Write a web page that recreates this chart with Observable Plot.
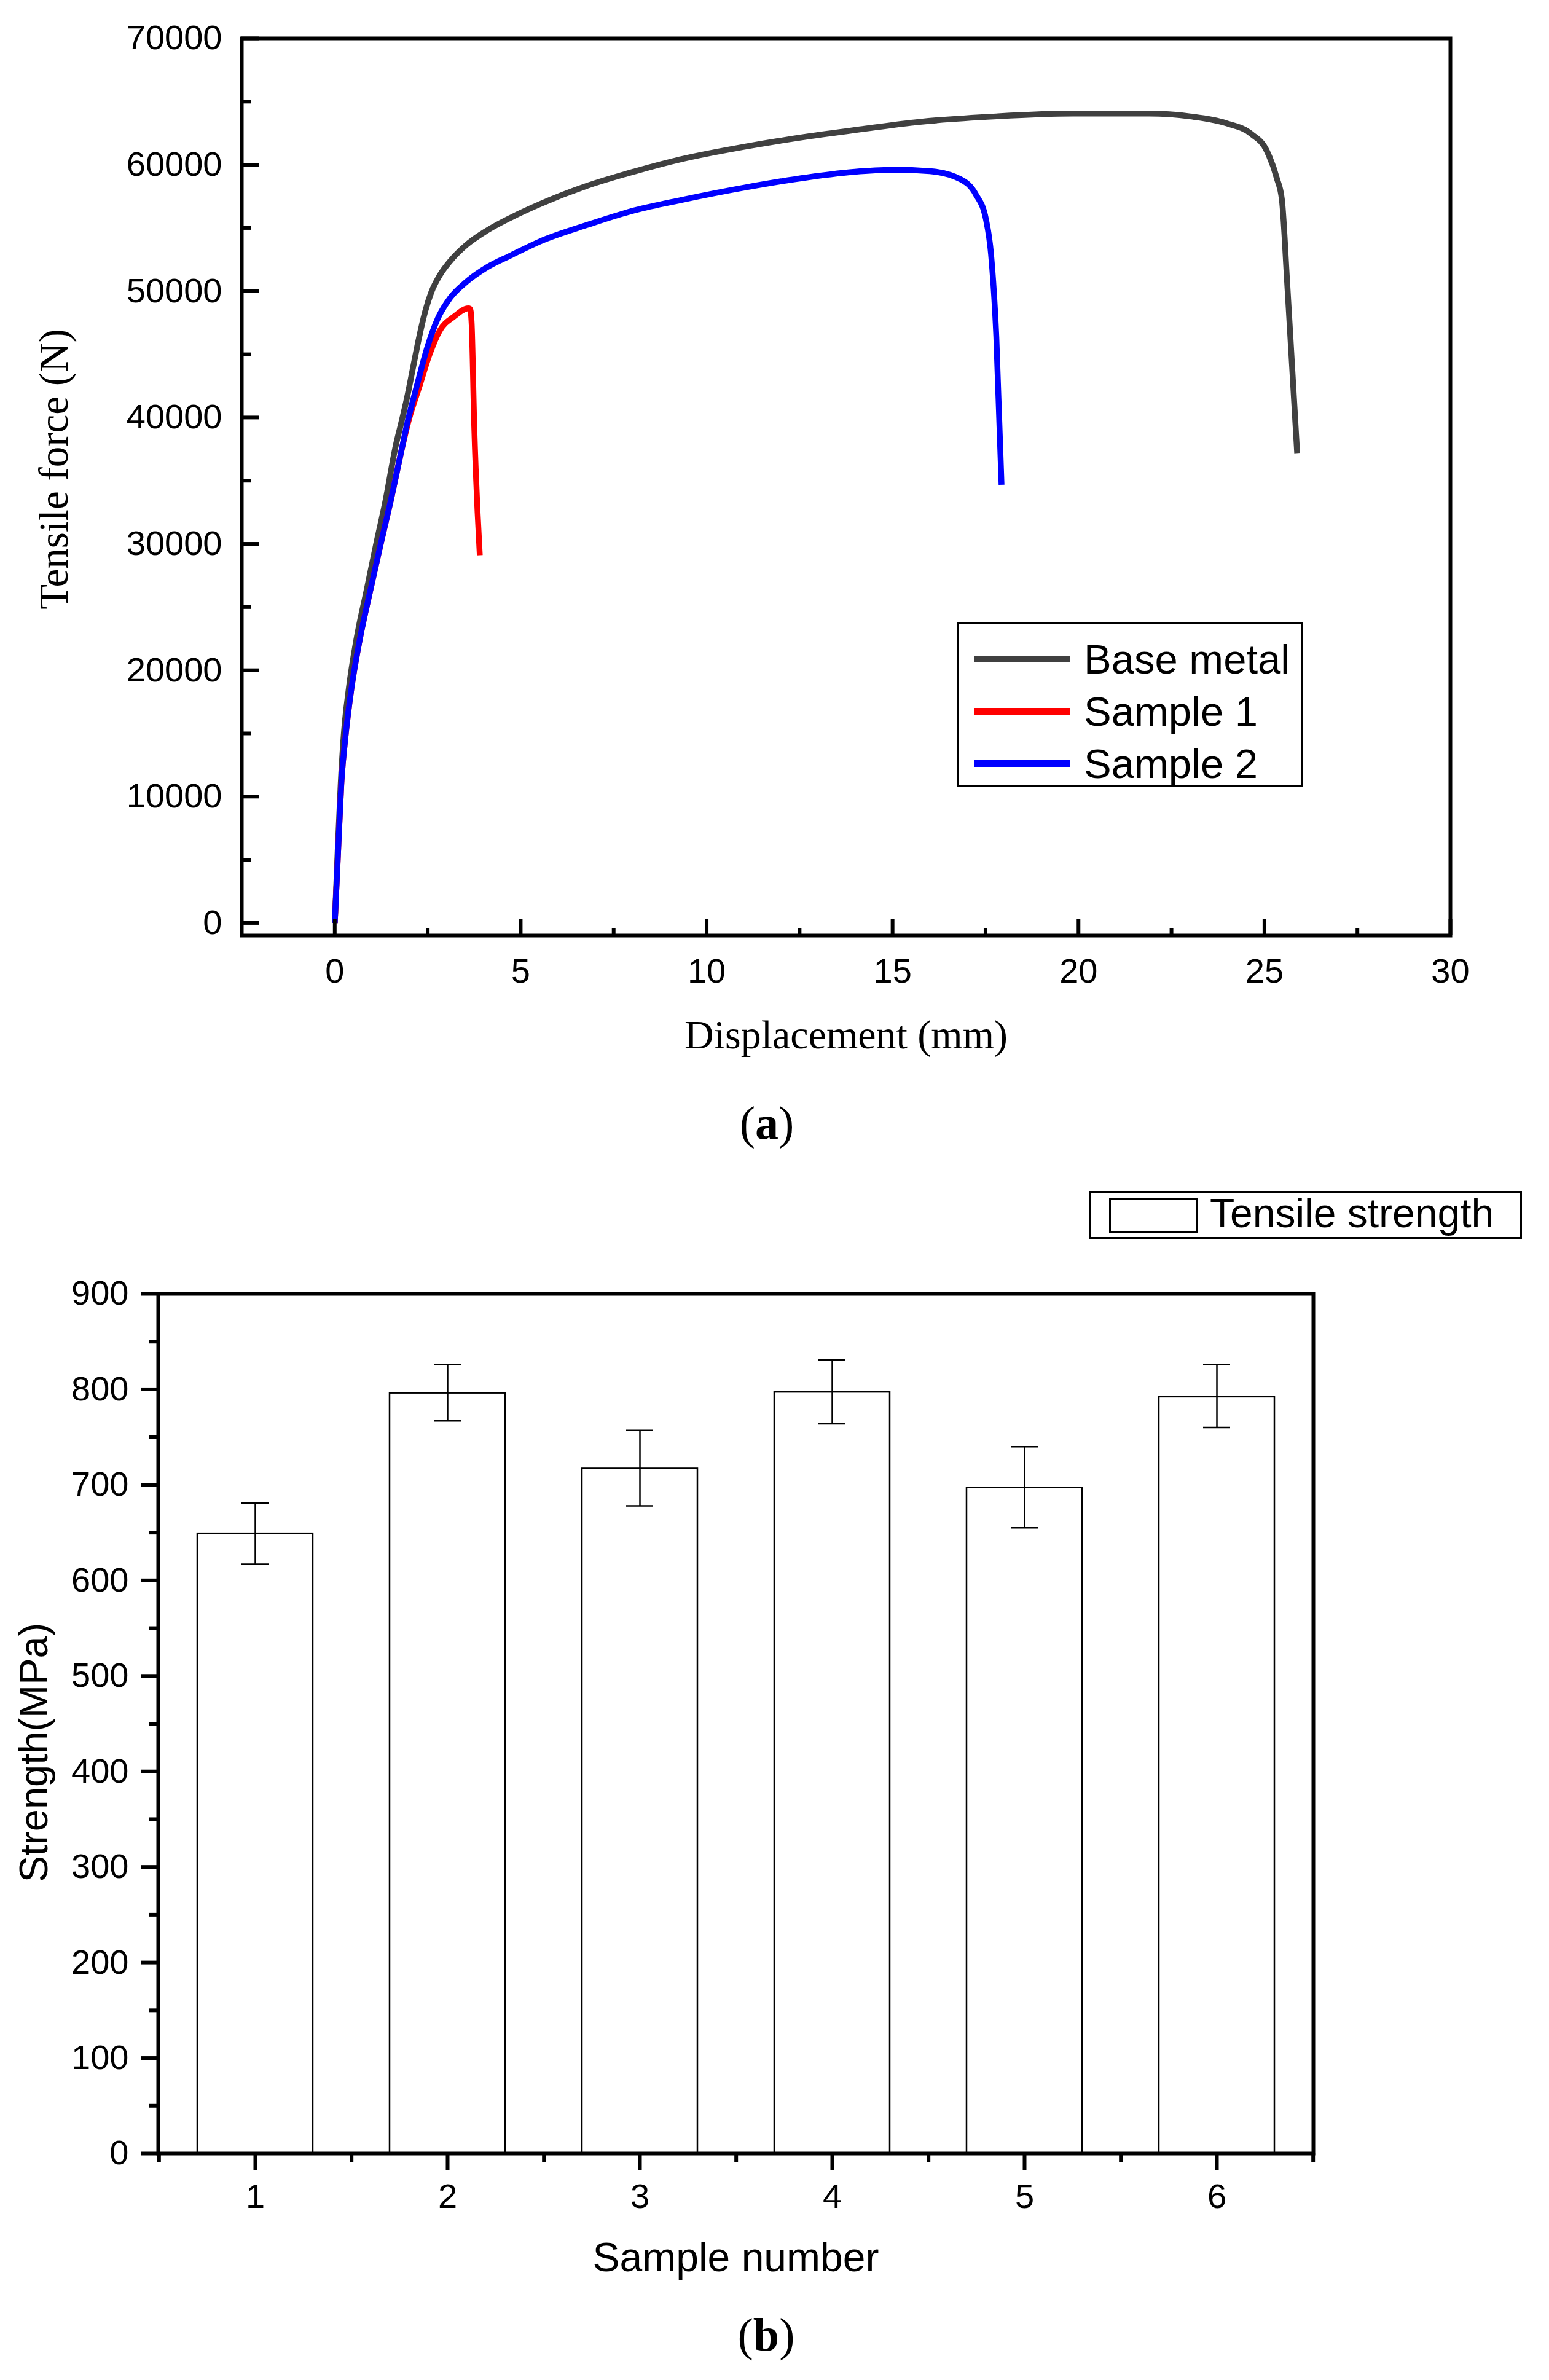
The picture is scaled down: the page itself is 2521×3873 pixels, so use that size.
<!DOCTYPE html>
<html>
<head>
<meta charset="utf-8">
<script src="https://cdn.jsdelivr.net/npm/d3@7"></script>
<script src="https://cdn.jsdelivr.net/npm/@observablehq/plot@0.6"></script>
<style>
html, body { margin: 0; padding: 0; background: #fff; }
#page { position: relative; width: 2521px; height: 3873px; overflow: hidden; background: #fff; }
#page > svg, #page > div { position: absolute; }
.lg { font-family: "Liberation Sans", Arial, sans-serif; color: #000; white-space: nowrap; line-height: 1; }
.cap { font-family: "Liberation Serif", "Times New Roman", serif; color: #000; line-height: 1; white-space: nowrap; transform: translate(-50%, -50%); }
</style>
</head>
<body>
<div id="page"></div>
<script>
// ---------- Panel (a): tensile force vs displacement ----------
const seriesNames = ["Base metal", "Sample 1", "Sample 2"];
const seriesColors = ["#404040", "#ff0000", "#0000ff"];

const baseMetalDisp  = [0, 0.09, 0.16, 0.24, 0.38, 0.58, 0.85, 1.1, 1.36, 1.65, 1.775, 1.94, 2.105, 2.27, 2.44, 2.6, 2.82, 3.1, 3.54, 4.09, 4.75, 5.53, 6.8, 8.07, 9.33, 11.01, 12.7, 14.12, 15.74, 17.79, 19.85, 21.9, 23.0, 23.96, 24.65, 25.06, 25.33, 25.47, 25.61, 25.74, 25.88];
const baseMetalForce = [0, 6500, 11000, 14800, 18600, 22400, 26240, 29800, 33350, 37900, 39420, 41520, 43950, 46370, 48480, 49940, 51230, 52360, 53660, 54790, 55840, 56900, 58350, 59480, 60450, 61420, 62230, 62800, 63400, 63830, 64050, 64050, 63830, 63300, 62430, 61120, 58960, 57230, 50730, 44220, 37180];

const sample1Disp  = [0, 0.094, 0.176, 0.29, 0.45, 0.67, 0.95, 1.22, 1.5, 1.83, 2.0, 2.27, 2.55, 2.82, 3.21, 3.59, 3.64, 3.68, 3.75, 3.9];
const sample1Force = [0, 5900, 11000, 14800, 18600, 22400, 26240, 29800, 33350, 37850, 39900, 42400, 45000, 46860, 47990, 48640, 48600, 47500, 39400, 29100];

const sample2Disp  = [0, 0.094, 0.176, 0.29, 0.45, 0.67, 0.95, 1.22, 1.5, 1.83, 1.94, 2.22, 2.49, 2.77, 3.1, 3.54, 4.09, 4.75, 5.53, 6.8, 8.07, 9.33, 11.01, 12.7, 14.12, 15.05, 16.0, 16.83, 17.24, 17.51, 17.65, 17.79, 17.93];
const sample2Force = [0, 5900, 11000, 14800, 18600, 22400, 26240, 29800, 33350, 37900, 39420, 42650, 45570, 47830, 49450, 50740, 51880, 52850, 53950, 55250, 56400, 57220, 58190, 59000, 59480, 59610, 59500, 58850, 57650, 55700, 52880, 46390, 34680];

const xTicksA = [0, 5, 10, 15, 20, 25, 30];
const xMinorA = [2.5, 7.5, 12.5, 17.5, 22.5, 27.5];
const yTicksA = [0, 10000, 20000, 30000, 40000, 50000, 60000, 70000];
const yMinorA = [5000, 15000, 25000, 35000, 45000, 55000, 65000];

// ---------- Panel (b): tensile strength per sample ----------
const samples  = ["1", "2", "3", "4", "5", "6"];
const strength = [649, 796, 717, 797, 697, 792];
const errLow   = [617, 767, 678, 764, 655, 760];
const errHigh  = [681, 826, 757, 831, 740, 826];
const yTicksB = [0, 100, 200, 300, 400, 500, 600, 700, 800, 900];
const yMinorB = [50, 150, 250, 350, 450, 550, 650, 750, 850];

// ---------- build tables ----------
const curves = [[baseMetalDisp, baseMetalForce], [sample1Disp, sample1Force], [sample2Disp, sample2Force]];
const rowsA = curves.flatMap(([xs, ys], i) => xs.map((x, j) => ({series: seriesNames[i], disp: x, force: ys[j]})));
const rowsB = samples.map((s, i) => ({sample: s, strength: strength[i], lo: errLow[i], hi: errHigh[i]}));

const page = document.getElementById("page");
const W = 2521;
const sans = "Liberation Sans, Arial, sans-serif";
const serif = "Liberation Serif, Times New Roman, serif";

// Panel (a) layout
const A = {height: 1900, ml: 393, mr: 161, mt: 62, mb: 378};
const AfW = W - A.ml - A.mr, AfH = A.height - A.mt - A.mb;

const plotA = Plot.plot({
  width: W, height: A.height,
  marginLeft: A.ml, marginRight: A.mr, marginTop: A.mt, marginBottom: A.mb,
  style: {fontFamily: sans, fontSize: "56px", color: "black", background: "white", overflow: "visible"},
  x: {domain: [-2.5, 30], label: null},
  y: {domain: [-1000, 70000], label: null},
  color: {domain: seriesNames, range: seriesColors},
  marks: [
    Plot.line(rowsA, {x: "disp", y: "force", z: "series", stroke: "series", strokeWidth: 9.5, strokeLinecap: "butt", strokeLinejoin: "round", curve: "monotone-x"}),
    Plot.frame({stroke: "black", strokeWidth: 6}),
    Plot.ruleX(xTicksA, {x: d => d, insetTop: AfH - 26, strokeWidth: 6}),
    Plot.ruleX(xMinorA, {x: d => d, insetTop: AfH - 12, strokeWidth: 6}),
    Plot.ruleY(yTicksA, {y: d => d, insetRight: AfW - 29, strokeWidth: 6}),
    Plot.ruleY(yMinorA, {y: d => d, insetRight: AfW - 15, strokeWidth: 6}),
    Plot.axisX({ticks: xTicksA, tickSize: 0, tickPadding: 37, tickFormat: d => String(d), fontSize: 56, label: null}),
    Plot.axisY({ticks: yTicksA, tickSize: 0, tickPadding: 32, tickFormat: d => String(d), fontSize: 56, label: null}),
    Plot.text(["Displacement (mm)"], {text: d => d, frameAnchor: "bottom", dy: 137, lineAnchor: "top", fontFamily: serif, fontSize: 66}),
    Plot.text(["Tensile force (N)"], {text: d => d, frameAnchor: "left", dx: -305, dy: -29, rotate: -90, textAnchor: "middle", lineAnchor: "middle", fontFamily: serif, fontSize: 67})
  ]
});
plotA.style.left = "0px"; plotA.style.top = "0px";
page.appendChild(plotA);

// Legend (a)
const legA = document.createElement("div");
Object.assign(legA.style, {left: "1557px", top: "1013px", width: "563px", height: "268px", border: "3.5px solid #000", boxSizing: "border-box", background: "#fff"});
page.appendChild(legA);
const legRows = [1072, 1157, 1242];
seriesNames.forEach((name, i) => {
  const ln = document.createElement("div");
  Object.assign(ln.style, {left: "1586px", top: (legRows[i] - 5.5) + "px", width: "156px", height: "11px", background: seriesColors[i]});
  page.appendChild(ln);
  const tx = document.createElement("div");
  tx.className = "lg";
  tx.textContent = name;
  Object.assign(tx.style, {left: "1764px", top: (legRows[i] - 33.5) + "px", fontSize: "67px"});
  page.appendChild(tx);
});

// Caption (a)
const capA = document.createElement("div");
capA.className = "cap";
capA.innerHTML = "(<b>a</b>)";
Object.assign(capA.style, {left: "1248px", top: "1827px", fontSize: "76px"});
page.appendChild(capA);

// Panel (b) layout
const B = {top: 1900, height: 1973, ml: 257, mr: 384, mt: 205, mb: 369};
const BfW = W - B.ml - B.mr;
const step = BfW / samples.length;

const plotB = Plot.plot({
  width: W, height: B.height,
  marginLeft: B.ml, marginRight: B.mr, marginTop: B.mt, marginBottom: B.mb,
  style: {fontFamily: sans, fontSize: "56px", color: "black", background: "white", overflow: "visible"},
  x: {type: "band", domain: samples, paddingInner: 0.4, paddingOuter: 0.2, label: null},
  y: {domain: [0, 900], label: null},
  marks: [
    Plot.barY(rowsB, {x: "sample", y: "strength", fill: "white", stroke: "black", strokeWidth: 2.5}),
    Plot.ruleX(rowsB, {x: "sample", y1: "lo", y2: "hi", stroke: "black", strokeWidth: 2.5}),
    Plot.tickY(rowsB, {x: "sample", y: "lo", insetLeft: 72, insetRight: 72, stroke: "black", strokeWidth: 2.5}),
    Plot.tickY(rowsB, {x: "sample", y: "hi", insetLeft: 72, insetRight: 72, stroke: "black", strokeWidth: 2.5}),
    Plot.frame({stroke: "black", strokeWidth: 6}),
    Plot.axisY({ticks: yTicksB, tickSize: 28, tickPadding: 20, strokeWidth: 6, tickFormat: d => String(d), fontSize: 56, label: null}),
    Plot.axisY({ticks: yMinorB, tickSize: 14, tickPadding: 0, strokeWidth: 6, tickFormat: () => "", label: null}),
    Plot.axisX({tickSize: 27, tickPadding: 22, strokeWidth: 6, fontSize: 56, label: null}),
    Plot.axisX(samples, {tickSize: 14, tickPadding: 0, strokeWidth: 6, tickFormat: () => "", dx: step / 2, label: null}),
    Plot.axisX(samples.slice(0, 1), {tickSize: 14, tickPadding: 0, strokeWidth: 6, tickFormat: () => "", dx: -step / 2, label: null}),
    Plot.text(["Sample number"], {text: d => d, frameAnchor: "bottom", dy: 145, lineAnchor: "top", fontFamily: sans, fontSize: 66}),
    Plot.text(["Strength(MPa)"], {text: d => d, frameAnchor: "left", dx: -201, dy: 47, rotate: -90, textAnchor: "middle", lineAnchor: "middle", fontFamily: sans, fontSize: 65})
  ]
});
plotB.style.left = "0px"; plotB.style.top = B.top + "px";
page.appendChild(plotB);

// Legend (b)
const legB = document.createElement("div");
Object.assign(legB.style, {left: "1773px", top: "1938px", width: "704px", height: "78px", border: "3px solid #000", boxSizing: "border-box", background: "#fff"});
page.appendChild(legB);
const sw = document.createElement("div");
Object.assign(sw.style, {left: "1805px", top: "1950px", width: "145px", height: "57px", border: "3px solid #000", boxSizing: "border-box", background: "#fff"});
page.appendChild(sw);
const txB = document.createElement("div");
txB.className = "lg";
txB.textContent = "Tensile strength";
Object.assign(txB.style, {left: "1969px", top: "1941px", fontSize: "66px"});
page.appendChild(txB);

// Caption (b)
const capB = document.createElement("div");
capB.className = "cap";
capB.innerHTML = "(<b>b</b>)";
Object.assign(capB.style, {left: "1247px", top: "3799px", fontSize: "76px"});
page.appendChild(capB);
</script>
</body>
</html>
